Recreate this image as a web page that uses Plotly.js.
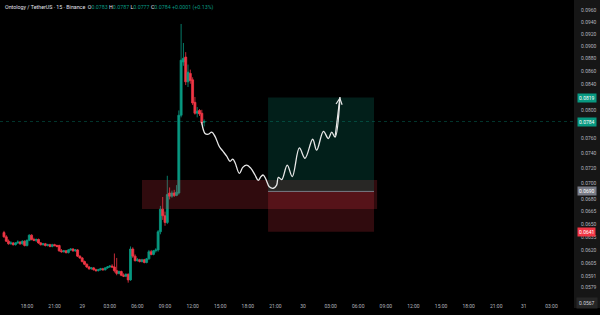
<!DOCTYPE html>
<html><head><meta charset="utf-8">
<script src="https://cdn.plot.ly/plotly-3.0.1.min.js"></script>
<style>html,body{margin:0;padding:0;background:#000;}#chart{width:600px;height:315px;}</style>
</head><body><div id="chart"></div>
<script>
// ---- data (15-minute candles, Ontology / TetherUS, Binance) ----
const candleStart = '2024-03-28T15:30:00Z';
const opens  = [0.0640,0.0635,0.0630,0.0627,0.0628,0.0626,0.0628,0.0629,0.0627,0.0630,0.0625,0.0631,0.0637,0.0632,0.0631,0.0632,0.0628,0.0626,0.0627,0.0625,0.0626,0.0624,0.0626,0.0625,0.0625,0.0619,0.0618,0.0619,0.0617,0.0620,0.0621,0.0619,0.0620,0.0613,0.0611,0.0607,0.0604,0.0601,0.0599,0.0600,0.0598,0.0597,0.0598,0.0599,0.0598,0.0600,0.0601,0.0602,0.0601,0.0597,0.0594,0.0596,0.0592,0.0591,0.0593,0.0587,0.0621,0.0613,0.0608,0.0609,0.0607,0.0609,0.0606,0.0610,0.0618,0.0615,0.0619,0.0620,0.0641,0.0668,0.0660,0.0652,0.0688,0.0684,0.0688,0.0685,0.0688,0.0793,0.0874,0.0882,0.0843,0.0856,0.0846,0.0812,0.0796,0.0800,0.0796,0.0783];
const highs  = [0.0642,0.0637,0.0632,0.0630,0.0629,0.0629,0.0631,0.0630,0.0631,0.0631,0.0632,0.0638,0.0638,0.0634,0.0633,0.0633,0.0629,0.0628,0.0628,0.0627,0.0627,0.0627,0.0627,0.0626,0.0626,0.0621,0.0620,0.0620,0.0621,0.0622,0.0622,0.0621,0.0621,0.0614,0.0612,0.0608,0.0605,0.0602,0.0601,0.0601,0.0599,0.0599,0.0600,0.0600,0.0601,0.0602,0.0603,0.0604,0.0616,0.0611,0.0597,0.0597,0.0594,0.0594,0.0594,0.0624,0.0623,0.0615,0.0611,0.0610,0.0610,0.0610,0.0611,0.0620,0.0620,0.0620,0.0622,0.0643,0.0672,0.0683,0.0665,0.0710,0.0695,0.0691,0.0692,0.0698,0.0800,0.0937,0.0905,0.0890,0.0870,0.0862,0.0850,0.0820,0.0805,0.0802,0.0801,0.0787];
const lows   = [0.0634,0.0629,0.0626,0.0626,0.0625,0.0625,0.0627,0.0626,0.0626,0.0624,0.0624,0.0630,0.0631,0.0630,0.0629,0.0627,0.0625,0.0625,0.0624,0.0624,0.0623,0.0623,0.0624,0.0623,0.0618,0.0617,0.0617,0.0616,0.0616,0.0619,0.0618,0.0618,0.0612,0.0610,0.0606,0.0603,0.0600,0.0598,0.0598,0.0597,0.0596,0.0596,0.0597,0.0597,0.0597,0.0599,0.0600,0.0600,0.0595,0.0592,0.0593,0.0591,0.0590,0.0590,0.0584,0.0586,0.0611,0.0607,0.0607,0.0606,0.0606,0.0605,0.0605,0.0609,0.0614,0.0614,0.0617,0.0618,0.0638,0.0655,0.0648,0.0650,0.0680,0.0682,0.0683,0.0684,0.0686,0.0790,0.0868,0.0838,0.0835,0.0840,0.0808,0.0794,0.0790,0.0792,0.0779,0.0777];
const closes = [0.0635,0.0630,0.0627,0.0628,0.0626,0.0628,0.0629,0.0627,0.0630,0.0625,0.0631,0.0637,0.0632,0.0631,0.0632,0.0628,0.0626,0.0627,0.0625,0.0626,0.0624,0.0626,0.0625,0.0624,0.0619,0.0618,0.0619,0.0617,0.0620,0.0621,0.0619,0.0620,0.0613,0.0611,0.0607,0.0604,0.0601,0.0599,0.0600,0.0598,0.0597,0.0598,0.0599,0.0598,0.0600,0.0601,0.0602,0.0601,0.0597,0.0594,0.0596,0.0592,0.0591,0.0593,0.0587,0.0621,0.0613,0.0608,0.0609,0.0607,0.0609,0.0606,0.0610,0.0618,0.0615,0.0619,0.0620,0.0641,0.0668,0.0660,0.0652,0.0686,0.0684,0.0688,0.0685,0.0689,0.0793,0.0877,0.0880,0.0843,0.0858,0.0845,0.0811,0.0796,0.0799,0.0795,0.0782,0.0784];

// hand-drawn projection path
const waveTimes = ['2024-03-29 12:59','2024-03-29 13:21','2024-03-29 13:42','2024-03-29 14:05','2024-03-29 14:26','2024-03-29 14:54','2024-03-29 15:16','2024-03-29 15:42','2024-03-29 16:04','2024-03-29 16:22','2024-03-29 16:37','2024-03-29 17:05','2024-03-29 17:27','2024-03-29 17:53','2024-03-29 18:19','2024-03-29 18:47','2024-03-29 19:08','2024-03-29 19:26','2024-03-29 19:41','2024-03-29 19:59','2024-03-29 20:20','2024-03-29 20:46','2024-03-29 21:08','2024-03-29 21:19','2024-03-29 21:41','2024-03-29 22:17','2024-03-29 22:50','2024-03-29 23:36','2024-03-30 00:13','2024-03-30 01:03','2024-03-30 01:29','2024-03-30 02:13','2024-03-30 02:45','2024-03-30 03:07','2024-03-30 03:29','2024-03-30 04:01'];
const wavePrices = [0.0783,0.0767,0.0766,0.0769,0.0763,0.0749,0.0743,0.0736,0.0729,0.0732,0.0727,0.0713,0.0721,0.0724,0.0720,0.0711,0.0704,0.0709,0.0711,0.0705,0.0696,0.0694,0.0698,0.0708,0.0705,0.0724,0.0709,0.0747,0.0733,0.0759,0.0744,0.0770,0.0760,0.0769,0.0762,0.0820];

// zone and long position
const zoneTimes = ['2024-03-29 06:30','2024-03-30 08:03'];
const zonePrices = [0.06683,0.07046];
const posTimes = ['2024-03-29 20:12','2024-03-30 07:43'];
const targetPrice = 0.0819, entryPrice = 0.0690, stopPrice = 0.0641;
const lastPrice = 0.0784;
const bottomPrice = 0.0567;

const xTickVals = ['2024-03-28 18:00','2024-03-28 21:00','2024-03-29 00:00','2024-03-29 03:00','2024-03-29 06:00','2024-03-29 09:00','2024-03-29 12:00','2024-03-29 15:00','2024-03-29 18:00','2024-03-29 21:00','2024-03-30 00:00','2024-03-30 03:00','2024-03-30 06:00','2024-03-30 09:00','2024-03-30 12:00','2024-03-30 15:00','2024-03-30 18:00','2024-03-30 21:00','2024-03-31 00:00','2024-03-31 03:00'];
const xTickText = ['18:00','21:00','29','03:00','06:00','09:00','12:00','15:00','18:00','21:00','30','03:00','06:00','09:00','12:00','15:00','18:00','21:00','31','03:00'];
const yTickVals = [0.0960,0.0940,0.0920,0.0900,0.0880,0.0860,0.0840,0.0800,0.0760,0.0740,0.0720,0.0700,0.0680,0.0665,0.0650,0.0635,0.0620,0.0605,0.0591,0.0579];
const xRange = ['2024-03-28 15:04','2024-03-31 05:27'];
const headerText = 'Ontology / TetherUS · 15 · Binance';
const ohlcText = {O:'0.0783', H:'0.0787', L:'0.0777', C:'0.0784', chg:'+0.0001 (+0.13%)'};

// ---- build ----
const GREEN = '#089981', RED = '#f23645';
function fmt(ms){const d=new Date(ms);const p=n=>String(n).padStart(2,'0');
  return d.getUTCFullYear()+'-'+p(d.getUTCMonth()+1)+'-'+p(d.getUTCDate())+' '+p(d.getUTCHours())+':'+p(d.getUTCMinutes());}
const t0 = Date.parse(candleStart);
const times = opens.map((_,i)=>fmt(t0+i*15*60000));

function rect(t,p,color){
  return {type:'scatter',mode:'lines',x:[t[0],t[1],t[1],t[0],t[0]],y:[p[0],p[0],p[1],p[1],p[0]],
    fill:'toself',fillcolor:color,line:{width:0},hoverinfo:'skip',showlegend:false};
}

const traces = [
  {type:'candlestick',x:times,open:opens,high:highs,low:lows,close:closes,
   increasing:{line:{color:GREEN,width:0.8},fillcolor:GREEN},
   decreasing:{line:{color:RED,width:0.8},fillcolor:RED},
   whiskerwidth:0,hoverinfo:'skip',showlegend:false},
  rect(zoneTimes,zonePrices,'rgba(242,54,69,0.2)'),
  rect(posTimes,[entryPrice,targetPrice],'rgba(8,153,129,0.2)'),
  rect(posTimes,[stopPrice,entryPrice],'rgba(242,54,69,0.2)'),
  {type:'scatter',mode:'lines',x:posTimes,y:[entryPrice,entryPrice],line:{color:'#787b86',width:1},hoverinfo:'skip',showlegend:false},
  {type:'scatter',mode:'lines',x:xRange,y:[lastPrice,lastPrice],line:{color:'rgba(8,153,129,0.35)',width:1,dash:'dot'},hoverinfo:'skip',showlegend:false},
  {type:'scatter',mode:'lines',x:waveTimes,y:wavePrices,line:{color:'#e8e8e8',width:1.3,shape:'spline',smoothing:1},hoverinfo:'skip',showlegend:false}
];

const n = waveTimes.length;
function priceLabel(v,bg){
  return {xref:'paper',yref:'y',x:1.0226,y:Math.log10(v),text:v.toFixed(4),showarrow:false,
    bgcolor:bg,font:{family:'Roboto, Arial',size:5,color:'#ffffff'},borderpad:1,xanchor:'center',yanchor:'middle'};
}
const g = '<span style="color:'+GREEN+'">';
const layout = {
  width:600,height:315,margin:{l:0,r:26,t:0,b:15,pad:0},
  paper_bgcolor:'#000000',plot_bgcolor:'#000000',showlegend:false,
  boxgap:0.15,boxgroupgap:0,
  xaxis:{type:'date',range:xRange,rangeslider:{visible:false},showgrid:false,zeroline:false,showline:false,
    tickvals:xTickVals,ticktext:xTickText,ticks:'',ticklabelstandoff:2,
    tickfont:{family:'Roboto, Arial',size:5,color:'#b2b5be'},fixedrange:true},
  yaxis:{type:'log',side:'right',range:[-1.24733,-1.00924],showgrid:false,zeroline:false,showline:false,
    tickvals:yTickVals,ticktext:yTickVals.map(v=>v.toFixed(4)),ticks:'',ticklabelstandoff:6,
    tickfont:{family:'Roboto, Arial',size:5,color:'#b2b5be'},fixedrange:true},
  shapes:[{type:'rect',xref:'paper',yref:'paper',x0:1,x1:1.05,y0:-0.027,y1:1,fillcolor:'#161616',line:{width:0},layer:'below'}],
  annotations:[
    {xref:'paper',yref:'paper',x:0.005,y:1,yshift:-2,xanchor:'left',yanchor:'top',showarrow:false,
     font:{family:'Roboto, Arial',size:5.3,color:'#e0e3eb'},
     text:headerText+'  O'+g+ohlcText.O+'</span> H'+g+ohlcText.H+'</span> L'+g+ohlcText.L+'</span> C'+g+ohlcText.C+'</span> '+g+ohlcText.chg+'</span>'},
    {x:waveTimes[n-1],y:Math.log10(wavePrices[n-1]),ax:waveTimes[n-2],ay:Math.log10(wavePrices[n-2]),
     xref:'x',yref:'y',axref:'x',ayref:'y',text:'',showarrow:true,arrowhead:5,arrowsize:1,arrowwidth:1.2,arrowcolor:'#e8e8e8',standoff:0},
    priceLabel(targetPrice,GREEN),
    priceLabel(lastPrice,GREEN),
    priceLabel(entryPrice,'#787b86'),
    priceLabel(stopPrice,RED),
    {xref:'paper',yref:'paper',x:1.0226,y:-0.01,text:bottomPrice.toFixed(4),showarrow:false,
     bgcolor:'#262626',font:{family:'Roboto, Arial',size:5,color:'#d1d4dc'},borderpad:2,xanchor:'center',yanchor:'middle'}
  ]
};
Plotly.newPlot('chart',traces,layout,{staticPlot:true,displayModeBar:false});
</script></body></html>
